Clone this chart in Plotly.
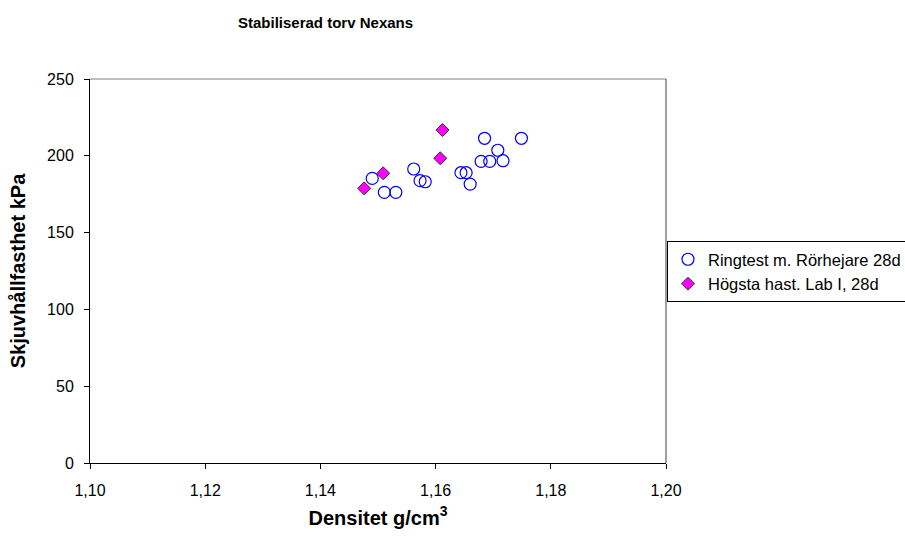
import plotly.graph_objects as go

# Ringtest m. Rörhejare 28d
ring_x = [1.1490, 1.1511, 1.1531, 1.1562, 1.1573, 1.1582, 1.1644, 1.1653, 1.1660,
          1.1685, 1.1679, 1.1694, 1.1708, 1.1717, 1.1749]
ring_y = [185.3, 176.2, 176.2, 191.4, 183.8, 183.1, 189.0, 189.0, 181.6,
          211.4, 196.4, 196.4, 203.6, 196.8, 211.4]

# Högsta hast. Lab I, 28d
hog_x = [1.1476, 1.1509, 1.1608, 1.1612]
hog_y = [178.8, 188.6, 198.4, 216.8]

x_ticks = [1.10, 1.12, 1.14, 1.16, 1.18, 1.20]
y_ticks = [0, 50, 100, 150, 200, 250]

W, H = 905, 541
L, R, T, B = 90, 666, 79, 463

fig = go.Figure()
fig.add_trace(go.Scatter(
    x=ring_x, y=ring_y, mode="markers", name="Ringtest m. Rörhejare 28d",
    marker=dict(symbol="circle-open", size=12, color="#0000FF", line=dict(width=1.2, color="#0000FF")),
))
fig.add_trace(go.Scatter(
    x=hog_x, y=hog_y, mode="markers", name="Högsta hast. Lab I, 28d",
    marker=dict(symbol="diamond", size=10, color="#FF00FF", line=dict(width=1, color="#333333")),
))

font_family = "Liberation Sans, Arial, sans-serif"

fig.update_layout(
    width=W, height=H,
    margin=dict(l=L, r=W - R, t=T, b=H - B, pad=0, autoexpand=False),
    paper_bgcolor="white", plot_bgcolor="white",
    separators=", ",
    font=dict(family=font_family, size=16, color="black"),
    showlegend=True,
    legend=dict(
        x=(667 - L) / (R - L), y=(B - 241) / (B - T), xanchor="left", yanchor="top",
        bordercolor="black", borderwidth=1, bgcolor="white",
        font=dict(size=16.5, family=font_family),
        tracegroupgap=0, itemwidth=30,
    ),
    xaxis=dict(
        range=[1.10, 1.20], tickvals=x_ticks, tickformat=".2f",
        showgrid=False, zeroline=False, showline=True, linecolor="black", linewidth=1,
        ticks="outside", ticklen=5, tickcolor="black", ticklabelstandoff=8,
        tickfont=dict(size=16),
        title=dict(text="<b>Densitet g/cm<sup>3</sup></b>", font=dict(size=20), standoff=12),
    ),
    yaxis=dict(
        range=[0, 250], tickvals=y_ticks,
        showgrid=False, zeroline=False, showline=True, linecolor="black", linewidth=1,
        ticks="outside", ticklen=5, tickcolor="black", ticklabelstandoff=7,
        tickfont=dict(size=16),
        title=dict(text="<b>Skjuvhållfasthet kPa</b>", font=dict(size=20), standoff=16),
    ),
    shapes=[
        dict(type="line", xref="paper", yref="paper", x0=0, x1=1, y0=1, y1=1,
             line=dict(color="#808080", width=1)),
        dict(type="line", xref="paper", yref="paper", x0=1, x1=1, y0=0, y1=1,
             line=dict(color="#404040", width=1)),
    ],
    annotations=[
        dict(text="<b>Stabiliserad torv Nexans</b>", xref="paper", yref="paper",
             x=(236 - L) / (R - L), y=(B - 22.5) / (B - T), xanchor="left", yanchor="middle",
             showarrow=False, font=dict(size=15, family=font_family)),
    ],
)

fig.write_html(
    "out.html",
    config={"displayModeBar": False},
    post_script="document.body.style.margin='0';document.body.style.overflow='hidden';",
)
